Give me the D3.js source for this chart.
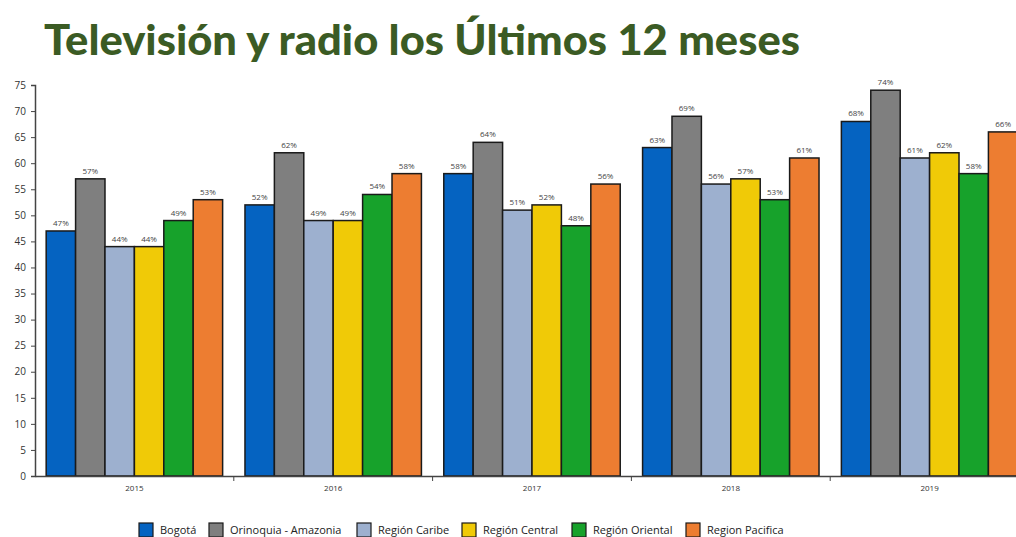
<!DOCTYPE html>
<html>
<head>
<meta charset="utf-8">
<script src="https://cdn.jsdelivr.net/npm/d3@7"></script>
<style>
  html, body { margin: 0; padding: 0; background: #fff; overflow: hidden; }
  svg { display: block; }
</style>
</head>
<body>
<svg id="chart" width="1016" height="537"></svg>
<script>
// Survey years and regions
const years = ["2015", "2016", "2017", "2018", "2019"];
const regions = ["Bogotá", "Orinoquia - Amazonia", "Región Caribe", "Región Central", "Región Oriental", "Region Pacifica"];
const colors = ["#0563c1", "#7f7f7f", "#9db0cf", "#f0ca07", "#17a22b", "#ed7d31"];

// Share (%) per region, one array per year, in region order
const v2015 = [47, 57, 44, 44, 49, 53];
const v2016 = [52, 62, 49, 49, 54, 58];
const v2017 = [58, 64, 51, 52, 48, 56];
const v2018 = [63, 69, 56, 57, 53, 61];
const v2019 = [68, 74, 61, 62, 58, 66];
const values = [v2015, v2016, v2017, v2018, v2019];

const yTicks = [0, 5, 10, 15, 20, 25, 30, 35, 40, 45, 50, 55, 60, 65, 70, 75];

const svg = d3.select("#chart");

// Title
svg.append("text")
  .attr("x", 44)
  .attr("y", 55)
  .attr("textLength", 756)
  .attr("lengthAdjust", "spacingAndGlyphs")
  .style("font-family", "Lato, 'DejaVu Sans', sans-serif")
  .style("font-weight", "900")
  .style("font-size", "42px")
  .style("fill", "#3b5b24")
  .text("Televisión y radio los Últimos 12 meses");

const plotLeft = 35, plotBottom = 476, plotTop = 85;

const y = d3.scaleLinear().domain([0, 75]).range([plotBottom, plotTop]);
const x0 = d3.scaleBand().domain(years).range([plotLeft, plotLeft + 5 * 198.8]).padding(0);
const x1 = d3.scaleBand().domain(regions).range([0, x0.bandwidth()]).paddingInner(0).paddingOuter(0.38);

// Bars
const groups = svg.append("g").selectAll("g")
  .data(years)
  .join("g")
  .attr("transform", d => `translate(${x0(d)},0)`);

groups.selectAll("rect")
  .data((d, i) => values[i].map((v, j) => ({ region: regions[j], value: v, color: colors[j] })))
  .join("rect")
  .attr("x", d => x1(d.region))
  .attr("y", d => y(d.value))
  .attr("width", x1.bandwidth())
  .attr("height", d => plotBottom - y(d.value))
  .attr("fill", d => d.color)
  .attr("stroke", "#1a1a1a")
  .attr("stroke-width", 1.5);

groups.selectAll("text.lbl")
  .data((d, i) => values[i].map((v, j) => ({ region: regions[j], value: v })))
  .join("text")
  .attr("class", "lbl")
  .attr("x", d => x1(d.region) + x1.bandwidth() / 2)
  .attr("y", d => y(d.value) - 5)
  .attr("text-anchor", "middle")
  .style("font-family", "'Open Sans', 'DejaVu Sans', sans-serif")
  .style("font-size", "8px")
  .style("fill", "#444")
  .text(d => d.value + "%");

// Y axis
const yAxis = svg.append("g")
  .attr("transform", `translate(${plotLeft},0)`)
  .call(d3.axisLeft(y).tickValues(yTicks).tickSize(4).tickPadding(5));
yAxis.select(".domain").attr("stroke", "#444").attr("stroke-width", 1.5);
yAxis.selectAll(".tick line").attr("stroke", "#444");
yAxis.selectAll(".tick text")
  .style("font-family", "'Open Sans', 'DejaVu Sans', sans-serif")
  .style("font-size", "10px")
  .style("fill", "#333");

// X axis: baseline with group separators, year labels centred
const xAxis = svg.append("g")
  .attr("transform", `translate(0,${plotBottom})`)
  .call(d3.axisBottom(x0).tickSize(0).tickPadding(9));
xAxis.select(".domain").attr("stroke", "#444").attr("stroke-width", 1.5);
xAxis.selectAll(".tick text")
  .style("font-family", "'Open Sans', 'DejaVu Sans', sans-serif")
  .style("font-size", "8px")
  .style("fill", "#333");
xAxis.selectAll("line.sep")
  .data(years.slice(1))
  .join("line")
  .attr("class", "sep")
  .attr("x1", d => x0(d)).attr("x2", d => x0(d))
  .attr("y1", 0).attr("y2", 5)
  .attr("stroke", "#444");

// Legend
const legendX = [139, 209, 357, 462, 572, 686];
const legend = svg.append("g").selectAll("g")
  .data(regions)
  .join("g")
  .attr("transform", (d, i) => `translate(${legendX[i]},523)`);
legend.append("rect")
  .attr("width", 14).attr("height", 14)
  .attr("fill", (d, i) => colors[i])
  .attr("stroke", "#1a1a1a").attr("stroke-width", 1.2);
legend.append("text")
  .attr("x", 21).attr("y", 11)
  .style("font-family", "'Open Sans', 'DejaVu Sans', sans-serif")
  .style("font-size", "11px")
  .style("fill", "#222")
  .text(d => d);
</script>
</body>
</html>
